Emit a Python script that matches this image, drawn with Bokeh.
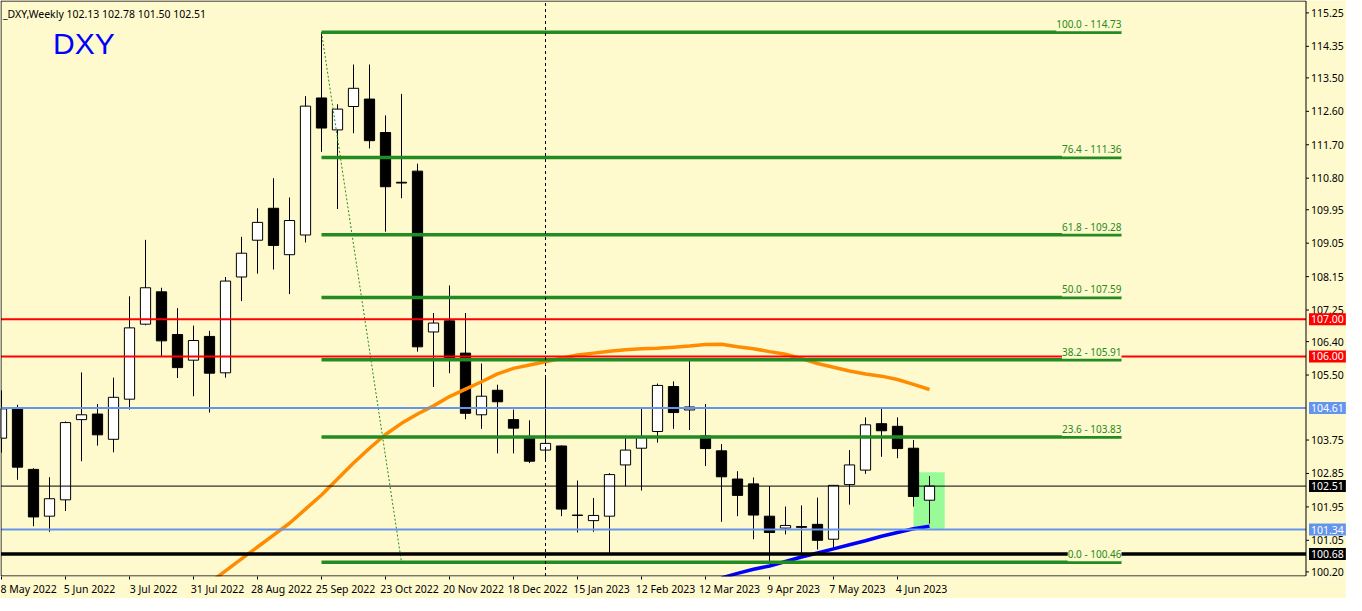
from bokeh.plotting import figure
from bokeh.models import Range1d, Label, FixedTicker, LinearAxis, ColumnDataSource
from bokeh.core.properties import value
from bokeh.embed import file_html
from bokeh.resources import INLINE

# ---------------- data ----------------
header_text = "_DXY,Weekly  102.13 102.78 101.50 102.51"
symbol = "DXY"

# weekly candles, first bar = week of 8 May 2022, last = week of 18 Jun 2023
opens = [103.80, 104.62, 102.96, 101.70, 102.14, 104.30, 104.45, 103.77, 104.85, 106.87,
         107.74, 106.59, 105.90, 106.54, 105.56, 108.14, 109.13, 109.99, 108.74, 109.27,
         112.96, 112.10, 112.73, 112.93, 112.03, 110.69, 110.99, 106.66, 106.96, 106.09,
         104.43, 105.09, 104.30, 103.80, 103.48, 103.59, 101.73, 101.58, 101.70, 103.08,
         103.53, 103.98, 105.19, 104.56, 103.86, 103.46, 102.70, 102.57, 101.70, 101.38,
         101.42, 101.48, 101.08, 102.55, 102.94, 104.19, 104.12, 103.53, 102.13]
highs = [105.09, 104.70, 102.99, 102.75, 104.25, 105.57, 104.72, 105.43, 107.62, 109.14,
         107.85, 107.30, 106.83, 106.69, 108.14, 109.22, 109.99, 110.80, 110.28, 113.01,
         114.73, 112.79, 113.86, 113.86, 112.49, 113.07, 111.19, 107.17, 107.91, 107.17,
         105.81, 105.24, 104.57, 104.28, 105.44, 103.60, 102.66, 102.19, 102.86, 103.86,
         104.62, 105.27, 105.33, 105.88, 104.72, 103.64, 102.91, 102.74, 102.51, 101.96,
         101.99, 102.20, 102.53, 103.48, 104.36, 104.63, 104.36, 103.75, 102.78]
lows = [103.41, 102.68, 101.43, 101.28, 101.84, 103.18, 103.60, 103.42, 104.57, 106.84,
        105.99, 105.42, 104.93, 104.49, 105.43, 107.49, 108.23, 108.34, 107.68, 109.07,
        111.51, 109.97, 112.01, 111.60, 109.36, 110.26, 106.13, 105.18, 105.55, 104.31,
        104.05, 103.39, 103.39, 103.13, 103.18, 101.70, 101.26, 101.28, 100.71, 102.51,
        102.39, 103.68, 104.05, 104.02, 103.05, 101.55, 101.70, 101.08, 100.44, 101.21,
        100.71, 100.80, 100.80, 102.01, 102.84, 103.30, 103.26, 101.96, 101.50]
closes = [104.59, 103.02, 101.68, 102.17, 104.22, 104.43, 103.89, 104.90, 106.77, 107.85,
          106.42, 105.70, 106.43, 105.55, 108.03, 108.78, 109.61, 108.99, 109.66, 112.74,
          112.15, 112.66, 113.22, 111.81, 110.57, 110.67, 106.26, 106.90, 105.92, 104.47,
          104.93, 104.78, 104.07, 103.18, 103.66, 101.89, 101.72, 101.72, 102.82, 103.48,
          103.82, 105.22, 104.49, 104.64, 103.52, 102.76, 102.26, 101.73, 101.26, 101.45,
          101.40, 101.05, 102.53, 103.08, 104.16, 104.00, 103.52, 102.23, 102.51]

x_tick_bars = [0, 4, 8, 12, 16, 20, 24, 28, 32, 36, 40, 44, 48, 52, 56]
x_tick_labels = ["8 May 2022", "5 Jun 2022", "3 Jul 2022", "31 Jul 2022", "28 Aug 2022",
                 "25 Sep 2022", "23 Oct 2022", "20 Nov 2022", "18 Dec 2022", "15 Jan 2023",
                 "12 Feb 2023", "12 Mar 2023", "9 Apr 2023", "7 May 2023", "4 Jun 2023"]
y_ticks = [115.25, 114.35, 113.50, 112.60, 111.70, 110.80, 109.95, 109.05, 108.15,
           107.25, 106.40, 105.50, 103.75, 102.85, 101.95, 101.05, 100.20]

# moving averages (orange from bar 13, blue from bar 45)
ma_orange_first = 13
ma_orange = [99.90, 100.23, 100.55, 100.87, 101.19, 101.51, 101.89, 102.27, 102.70, 103.13,
             103.53, 103.90, 104.20, 104.45, 104.67, 104.92, 105.12, 105.32, 105.53, 105.68,
             105.77, 105.86, 105.95, 106.04, 106.09, 106.14, 106.18, 106.21, 106.22, 106.25,
             106.28, 106.32, 106.33, 106.26, 106.21, 106.13, 106.06, 105.94, 105.81, 105.71,
             105.61, 105.53, 105.47, 105.38, 105.25, 105.11]
ma_blue_first = 45
ma_blue = [100.04, 100.16, 100.27, 100.36, 100.48, 100.60, 100.71, 100.82, 100.93, 101.04,
           101.16, 101.26, 101.36, 101.43]

# Fibonacci retracement
fib_ratios = [100.0, 76.4, 61.8, 50.0, 38.2, 23.6, 0.0]
fib_prices = [114.73, 111.36, 109.28, 107.59, 105.91, 103.83, 100.46]
fib_bar_high, fib_bar_low, fib_bar_end = 20, 25, 70

red_levels = [107.00, 106.00]
blue_levels = [104.61, 101.34]
current_price = 102.51
support_level = 100.68
year_separator_bar = 34
zone_bars = [57, 58.95]
zone_prices = [101.36, 102.88]

# ---------------- layout / style ----------------
BG = "#FFFACD"
GREEN = "#228B22"
RED = "#FF0000"
STEEL = "#6495ED"
FONT = "Noto Sans"
FS = "10.5px"
FS_FIB = "10px"
FS_DATE = "10.5px"
PX = 16.0                        # pixels per weekly bar
FRAME_W, FRAME_H = 1346, 576
X0 = -0.0625
X1 = X0 + FRAME_W / PX
XB_LEFT = X0 + 0.5 / PX          # chart border positions (bar units)
XB_RIGHT = X0 + 1305.5 / PX
Y0, Y1 = 100.076, 115.584
YB_BOT, YB_TOP = 100.09, 115.57

p = figure(frame_width=FRAME_W, frame_height=FRAME_H,
           x_range=Range1d(X0, X1), y_range=Range1d(Y0, Y1),
           output_backend="svg", toolbar_location=None,
           x_axis_location=None, y_axis_location=None,
           background_fill_color=BG, border_fill_color=BG,
           min_border_left=0, min_border_top=0, min_border_right=0, min_border_bottom=0)
p.outline_line_color = None
p.grid.visible = False

# bottom axis: tick marks at the bars, date labels next to them
ax_ticks = LinearAxis(ticker=FixedTicker(ticks=x_tick_bars),
                      major_label_overrides={b: "" for b in x_tick_bars},
                      major_label_text_font_size="0px", major_label_standoff=0,
                      major_tick_in=0, major_tick_out=3, minor_tick_line_color=None,
                      axis_line_color=None)
label_pos = [b + 1.5 for b in x_tick_bars]
ax_dates = LinearAxis(ticker=FixedTicker(ticks=label_pos),
                      major_label_overrides={lp: t for lp, t in zip(label_pos, x_tick_labels)},
                      major_label_text_font=FONT, major_label_text_font_size=FS_DATE,
                      major_label_text_color="black", major_label_standoff=2,
                      major_tick_in=0, major_tick_out=0, minor_tick_line_color=None,
                      major_tick_line_color=None, axis_line_color=None)
p.add_layout(ax_ticks, "below")
p.add_layout(ax_dates, "below")

n = len(opens)
bars = list(range(n))

# zone rectangle (behind candles)
p.quad(left=[zone_bars[0]], right=[zone_bars[1]], bottom=[zone_prices[0]], top=[zone_prices[1]],
       fill_color="#98FB98", line_color=None)

# candles
p.segment(x0=bars, y0=lows, x1=bars, y1=highs, line_color="black", line_width=1)
tops = [max(o, c) for o, c in zip(opens, closes)]
bots = [min(o, c) for o, c in zip(opens, closes)]
fills = ["white" if c >= o else "black" for o, c in zip(opens, closes)]
p.vbar(x=bars, width=0.64, top=tops, bottom=bots, fill_color=fills, line_color="black", line_width=1)

# moving averages
p.line(x=list(range(ma_orange_first, ma_orange_first + len(ma_orange))), y=ma_orange,
       line_color="#FF8C00", line_width=3.5)
p.line(x=list(range(ma_blue_first, ma_blue_first + len(ma_blue))), y=ma_blue,
       line_color="#0000FF", line_width=3.5)

# fibonacci lines
p.segment(x0=[fib_bar_high] * len(fib_prices), x1=[fib_bar_end] * len(fib_prices),
          y0=fib_prices, y1=fib_prices, line_color=GREEN, line_width=3.5)
p.line(x=[fib_bar_high, fib_bar_low], y=[fib_prices[0], fib_prices[-1]],
       line_color=GREEN, line_width=1, line_dash="2 2")

# horizontal levels across the chart
def hline(level, color, width):
    p.segment(x0=[XB_LEFT], x1=[XB_RIGHT], y0=[level], y1=[level], line_color=color, line_width=width)

for lv in red_levels:
    hline(lv, RED, 2)
for lv in blue_levels:
    hline(lv, STEEL, 2)
hline(current_price, "black", 1)
hline(support_level, "black", 3.5)

# year separator
p.segment(x0=[year_separator_bar], x1=[year_separator_bar], y0=[YB_BOT], y1=[YB_TOP],
          line_color="black", line_width=1, line_dash="3 3")

# chart border
p.line(x=[XB_LEFT, XB_RIGHT, XB_RIGHT, XB_LEFT, XB_LEFT],
       y=[YB_TOP, YB_TOP, YB_BOT, YB_BOT, YB_TOP], line_color="black", line_width=1)

# right price scale
p.segment(x0=[XB_RIGHT] * len(y_ticks), x1=[XB_RIGHT + 3 / PX] * len(y_ticks),
          y0=y_ticks, y1=y_ticks, line_color="black", line_width=1)
scale_src = ColumnDataSource(dict(x=[XB_RIGHT + 5 / PX] * len(y_ticks), y=y_ticks,
                                  t=[f"{v:.2f}" for v in y_ticks]))
p.text(x="x", y="y", text="t", source=scale_src, text_font=value(FONT),
       text_font_size=value(FS), text_color="black", text_align="left", text_baseline="middle")

# fibonacci labels
for r, pr in zip(fib_ratios, fib_prices):
    p.add_layout(Label(x=fib_bar_end, y=pr, text=f"{r:.1f} - {pr:.2f}", text_align="right",
                       text_baseline="bottom", y_offset=1, text_color=GREEN, text_font=FONT,
                       text_font_size=FS_FIB, background_fill_color=BG))

# price tags on the scale
tags = [(red_levels[0], RED), (red_levels[1], RED),
        (blue_levels[0], STEEL), (current_price, "black"),
        (blue_levels[1], STEEL), (support_level, "black")]
for pr, col in tags:
    p.add_layout(Label(x=XB_RIGHT, y=pr, text=f"{pr:.2f}", x_offset=3, text_align="left",
                       text_baseline="middle", text_color="white", text_font=FONT,
                       text_font_size=FS, background_fill_color=col, padding=2))

# header and symbol
p.add_layout(Label(x=0.09, y=115.22, text=header_text, text_align="left",
                   text_baseline="alphabetic", text_color="black", text_font=FONT,
                   text_font_size=FS))
p.add_layout(Label(x=3.22, y=114.43, text=symbol, text_align="left",
                   text_baseline="alphabetic", text_color="#0000FF",
                   text_font="Liberation Sans", text_font_size="30px"))

open("out.html", "w").write(file_html(p, INLINE))
